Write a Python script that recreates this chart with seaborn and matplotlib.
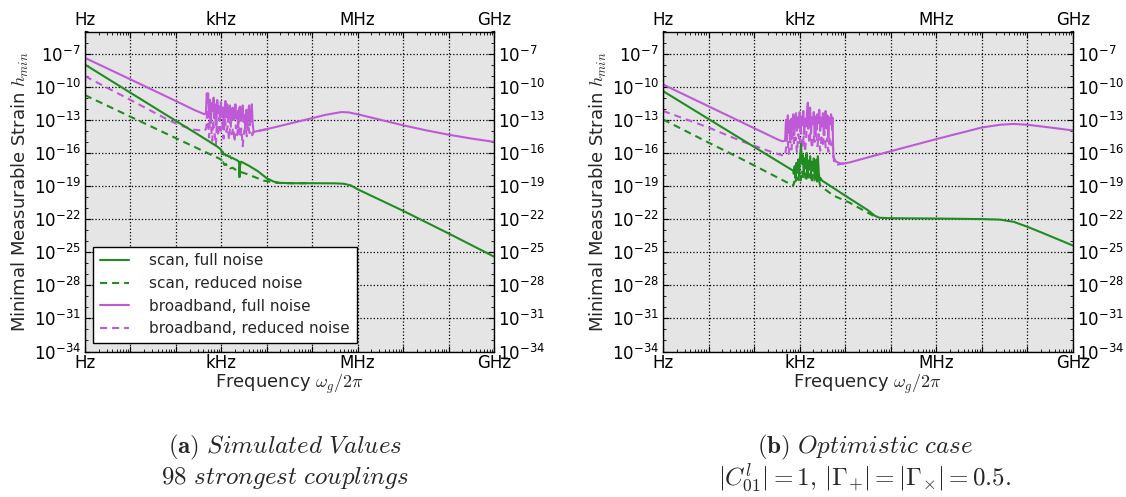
import numpy as np
import pandas as pd
import matplotlib
matplotlib.use("Agg")
import matplotlib.pyplot as plt
import matplotlib.ticker as mticker
import seaborn as sns

# ---------------- data (log10 frequency [Hz], log10 strain) ----------------
# Panel (a): simulated values, 98 strongest couplings
a_scan_full_logf = [0, 1, 2, 2.5, 2.9, 2.97, 3.0, 3.01, 3.03, 3.05, 3.08, 3.10, 3.13, 3.16, 3.19,
                    3.22, 3.25, 3.28, 3.31, 3.34, 3.37, 3.39, 3.40, 3.41, 3.43, 3.46, 3.6, 3.8,
                    4.0, 4.15, 4.3, 4.6, 5.0, 5.5, 5.7, 5.85, 6.0, 7.0, 8.0, 9.0]
a_scan_full_logh = [-8.0, -10.55, -13.1, -14.37, -15.4, -15.62, -15.75, -16.1, -15.9, -16.15, -16.1,
                    -16.25, -16.2, -16.35, -16.3, -16.5, -16.45, -16.55, -16.6, -16.65, -16.75,
                    -16.8, -18.2, -17.2, -16.8, -16.85, -17.15, -17.65, -18.3, -18.6, -18.72,
                    -18.75, -18.75, -18.76, -18.8, -18.95, -19.3, -21.25, -23.3, -25.4]

a_scan_red_logf = [0, 1, 2, 2.9, 3.0, 3.01, 3.04, 3.07, 3.10, 3.13, 3.17, 3.20, 3.25, 3.30, 3.35,
                   3.40, 3.56, 3.93, 4.22, 4.4, 5.0]
a_scan_red_logh = [-10.77, -12.72, -14.67, -16.41, -16.6, -17.0, -16.85, -17.1, -17.0, -17.25,
                   -17.2, -17.4, -17.35, -17.5, -17.55, -17.7, -17.91, -18.51, -18.72, -18.75, -18.75]

a_bb_full_logf = [0, 1, 2, 2.4, 2.6, 2.63, 2.66,
                  2.68, 2.70, 2.71, 2.73, 2.75, 2.77, 2.79, 2.81, 2.83, 2.85, 2.87, 2.89, 2.91,
                  2.93, 2.95, 2.97, 2.99, 3.01, 3.03, 3.05, 3.07, 3.09, 3.11, 3.13, 3.15, 3.17,
                  3.19, 3.21, 3.23, 3.25, 3.27, 3.29, 3.31, 3.33, 3.35, 3.37, 3.39, 3.41, 3.43,
                  3.45, 3.47, 3.49, 3.51, 3.53, 3.55, 3.57, 3.59, 3.61, 3.63, 3.65, 3.67, 3.69,
                  3.71, 4.0, 4.5, 5.0, 5.3, 5.5, 5.65, 5.8, 6.0, 6.5, 7.0, 7.5, 8.0, 8.5, 9.0]
a_bb_full_logh = [-7.39, -9.34, -11.3, -12.1, -12.45, -12.5, -12.4,
                  -10.6, -11.4, -10.6, -12.8, -11.2, -13.3, -11.5, -12.2, -11.0, -12.9, -11.6,
                  -13.5, -11.2, -12.4, -11.8, -13.1, -11.4, -12.7, -11.9, -13.6, -12.0, -11.3,
                  -12.8, -11.6, -13.2, -12.1, -11.7, -13.4, -12.3, -11.9, -13.0, -12.4, -11.6,
                  -12.9, -12.2, -13.7, -12.0, -11.8, -13.1, -12.5, -11.7, -13.2, -12.6, -13.8,
                  -12.1, -13.4, -12.3, -11.7, -13.5, -12.8, -11.6, -13.3,
                  -14.1, -13.85, -13.35, -12.85, -12.55, -12.4, -12.3, -12.33, -12.5, -13.0,
                  -13.5, -13.95, -14.35, -14.7, -15.0]

a_bb_red_logf = [0, 1, 1.8, 2.09, 2.4, 2.64,
                 2.67, 2.69, 2.71, 2.73, 2.75, 2.78, 2.80, 2.82, 2.85, 2.88, 2.90, 2.93, 2.96,
                 2.99, 3.02, 3.05, 3.08, 3.11, 3.14, 3.17, 3.20, 3.23, 3.26, 3.29, 3.32, 3.35,
                 3.38, 3.41, 3.44, 3.47, 3.50, 3.53, 3.56, 3.59, 3.62, 3.65, 3.68, 3.71, 4.0]
a_bb_red_logh = [-9.05, -11.2, -12.95, -13.5, -13.9, -14.0,
                 -13.7, -12.0, -13.2, -14.6, -12.6, -13.9, -14.9, -13.0, -14.2, -15.3, -13.4,
                 -14.5, -12.8, -14.0, -13.3, -14.7, -12.9, -14.1, -13.6, -14.8, -13.2, -14.3,
                 -13.7, -15.0, -13.5, -14.4, -13.0, -14.6, -13.8, -15.4, -14.1, -13.6, -14.5,
                 -13.3, -14.2, -13.9, -14.4, -14.1, -13.85]

# Panel (b): optimistic case
b_scan_full_logf = [0, 1, 2, 2.86,
                    2.87, 2.89, 2.91, 2.93, 2.95, 2.97, 2.99, 3.01, 3.03, 3.05, 3.07, 3.09, 3.11,
                    3.13, 3.15, 3.17, 3.19, 3.21, 3.23, 3.25, 3.27, 3.29, 3.31, 3.33, 3.35, 3.37,
                    3.39, 3.40, 3.42, 3.44, 3.46,
                    3.49, 4.11, 4.5, 4.65, 4.75, 5.0, 6.0, 7.0, 7.4, 7.7, 8.0, 8.3, 9.0]
b_scan_full_logh = [-10.4, -12.93, -15.46, -17.62,
                    -17.9, -17.2, -18.3, -16.9, -17.8, -16.6, -18.1, -16.4, -15.2, -17.0, -16.2,
                    -17.9, -16.5, -17.4, -16.0, -18.2, -16.7, -17.5, -16.3, -18.0, -16.8, -17.6,
                    -16.5, -18.3, -17.1, -16.6, -18.4, -16.3, -17.8, -18.5, -18.3,
                    -18.51, -20.17, -21.2, -21.7, -21.88, -21.92, -21.95, -22.0, -22.05, -22.25,
                    -22.7, -23.2, -24.4]

b_scan_red_logf = [0, 1, 1.7, 2.86,
                   2.88, 2.90, 2.93, 2.96, 2.99, 3.02, 3.05, 3.08, 3.11, 3.14, 3.17, 3.20, 3.23,
                   3.26, 3.29, 3.32, 3.35, 3.38, 3.41, 3.44,
                   3.45, 3.74, 4.09, 4.56, 4.7]
b_scan_red_logh = [-12.97, -15.07, -16.5, -18.97,
                   -18.6, -18.9, -18.2, -18.7, -17.9, -18.5, -17.6, -18.3, -17.8, -18.6, -17.5,
                   -18.4, -17.9, -18.7, -18.0, -18.5, -17.8, -18.6, -18.2, -18.8,
                   -18.97, -19.87, -20.5, -21.57, -21.85]

b_bb_full_logf = [0, 1, 2, 2.5, 2.62, 2.68,
                  2.70, 2.72, 2.74, 2.76, 2.78, 2.80, 2.82, 2.84, 2.86, 2.88, 2.90, 2.92, 2.94,
                  2.96, 2.98, 3.00, 3.02, 3.04, 3.06, 3.08, 3.10, 3.12, 3.14, 3.16, 3.18, 3.19,
                  3.21, 3.23, 3.25, 3.27, 3.29, 3.31, 3.33, 3.35, 3.37, 3.39, 3.41, 3.43, 3.45,
                  3.47, 3.49, 3.51, 3.53, 3.55, 3.57, 3.59, 3.61, 3.63, 3.65, 3.67, 3.69, 3.71,
                  3.72, 3.74, 3.8, 3.9, 4.0, 4.11, 4.55, 5.0, 6.0, 7.0, 7.4, 7.7, 8.0, 8.5, 9.0]
b_bb_full_logh = [-9.8, -11.78, -13.76, -14.75, -14.95, -14.9,
                  -13.0, -14.6, -12.6, -14.2, -13.1, -14.8, -12.9, -13.9, -12.5, -14.4, -13.2,
                  -12.4, -14.0, -12.8, -13.7, -12.3, -14.1, -12.7, -13.5, -12.2, -14.3, -12.9,
                  -13.6, -12.4, -11.45, -13.8, -12.6, -11.9, -14.2, -12.8, -13.4, -12.3, -14.5,
                  -12.7, -13.9, -12.5, -13.3, -12.1, -14.0, -12.8, -13.6, -12.4, -14.4, -12.9,
                  -12.2, -13.8, -12.6, -14.6, -12.8, -13.4, -12.5, -13.9,
                  -12.8, -16.4, -16.8, -16.97, -16.95, -16.85, -16.35, -15.85, -14.75, -13.7,
                  -13.45, -13.38, -13.45, -13.7, -13.97]

b_bb_red_logf = [0, 1, 1.7, 2.3, 2.68,
                 2.70, 2.73, 2.76, 2.79, 2.82, 2.85, 2.88, 2.91, 2.94, 2.97, 3.00, 3.03, 3.06,
                 3.09, 3.12, 3.15, 3.18, 3.21, 3.24, 3.27, 3.30, 3.33, 3.36, 3.39, 3.42, 3.45,
                 3.48, 3.51, 3.54, 3.57, 3.60, 3.63, 3.66, 3.69, 3.72,
                 3.76, 3.8, 3.9, 4.0]
b_bb_red_logh = [-12.2, -13.7, -14.9, -15.8, -16.3,
                 -15.6, -14.4, -16.1, -14.8, -15.7, -14.1, -15.3, -14.6, -16.0, -14.3, -15.2,
                 -13.9, -15.5, -14.5, -15.9, -14.0, -13.4, -15.1, -14.2, -15.6, -14.4, -15.0,
                 -13.8, -15.4, -14.3, -15.8, -14.6, -15.2, -14.0, -15.5, -14.7, -15.9, -14.5,
                 -15.3, -14.9,
                 -17.0, -17.1, -17.0, -16.95]

x_tick_names = {0: "Hz", 3: "kHz", 6: "MHz", 9: "GHz"}
y_major_exps = list(range(-34, -6, 3))
legend_labels = ["scan, full noise", "scan, reduced noise",
                 "broadband, full noise", "broadband, reduced noise"]
caption_a = [r"$\mathbf{(a)}\ \mathit{Simulated\ Values}$", r"$\mathit{98\ strongest\ couplings}$"]
caption_b = [r"$\mathbf{(b)}\ \mathit{Optimistic\ case}$",
             r"$|C^{l}_{01}| = 1,\, |\Gamma_{+}| = |\Gamma_{\times}| = 0.5.$"]

# ---------------- styling ----------------
sns.set_style("ticks")
plt.rcParams['font.family'] = ['DejaVu Sans']
plt.rcParams['mathtext.fontset'] = 'dejavusans'

GREEN = '#228B22'
PURPLE = '#BE5AD8'
FS_TICK = 12
FS_LABEL = 13
FS_LEG = 11
FS_CAP = 18


def frame(logf, logh):
    return pd.DataFrame({"f": 10.0 ** np.asarray(logf, float),
                         "h": 10.0 ** np.asarray(logh, float)})


fig = plt.figure(figsize=(11.26, 4.97), dpi=100)
ax_a = fig.add_axes([85 / 1126, 1 - 351.5 / 497, (494 - 85) / 1126, 320 / 497])
ax_b = fig.add_axes([663 / 1126, 1 - 351.5 / 497, (1073 - 663) / 1126, 320 / 497])

panels = [
    (ax_a, [(a_scan_full_logf, a_scan_full_logh), (a_scan_red_logf, a_scan_red_logh),
            (a_bb_full_logf, a_bb_full_logh), (a_bb_red_logf, a_bb_red_logh)]),
    (ax_b, [(b_scan_full_logf, b_scan_full_logh), (b_scan_red_logf, b_scan_red_logh),
            (b_bb_full_logf, b_bb_full_logh), (b_bb_red_logf, b_bb_red_logh)]),
]
colors = [GREEN, GREEN, PURPLE, PURPLE]
styles = ['-', (0, (3.4, 2.4)), '-', (0, (3.4, 2.4))]
# draw order: broadband first, scan on top
order = [2, 3, 0, 1]

for ax, series in panels:
    ax.set_facecolor('#e5e5e5')
    for i in order:
        lf, lh = series[i]
        sns.lineplot(data=frame(lf, lh), x="f", y="h", ax=ax, color=colors[i],
                     linestyle=styles[i], linewidth=1.5, label=legend_labels[i],
                     estimator=None, sort=False)
    ax.set_xscale('log')
    ax.set_yscale('log')
    ax.set_xlim(1, 1e9)
    ax.set_ylim(1e-34, 1e-5)

    ax.xaxis.set_major_locator(mticker.FixedLocator([10.0 ** k for k in range(0, 10)]))
    ax.xaxis.set_major_formatter(mticker.FuncFormatter(
        lambda v, p: x_tick_names.get(int(round(np.log10(v))), "")))
    ax.xaxis.set_minor_locator(mticker.LogLocator(base=10, subs=np.arange(2, 10), numticks=200))
    ax.xaxis.set_minor_formatter(mticker.NullFormatter())

    ax.yaxis.set_major_locator(mticker.FixedLocator([10.0 ** k for k in y_major_exps]))
    ax.yaxis.set_major_formatter(mticker.FuncFormatter(
        lambda v, p: r"$10^{%d}$" % int(round(np.log10(v)))))
    ax.yaxis.set_minor_locator(mticker.FixedLocator([10.0 ** k for k in range(-34, -4)]))
    ax.yaxis.set_minor_formatter(mticker.NullFormatter())

    ax.tick_params(which='both', direction='in', top=True, right=True, bottom=True, left=True,
                   labeltop=True, labelright=True, labelsize=FS_TICK, colors='black')
    ax.tick_params(which='major', length=4, width=0.8)
    ax.tick_params(axis='x', which='major', pad=2)
    ax.tick_params(axis='y', which='major', pad=3)
    ax.tick_params(which='minor', length=2, width=0.6)
    ax.grid(True, which='major', color='black', linestyle=':', linewidth=0.9)
    for s in ax.spines.values():
        s.set_color('black')
        s.set_linewidth(1.0)
    ax.set_xlabel(r"Frequency $\omega_g/2\pi$", fontsize=FS_LABEL, math_fontfamily='cm',
                  labelpad=0)
    ax.set_ylabel(r"Minimal Measurable Strain $h_{min}$", fontsize=FS_LABEL,
                  math_fontfamily='cm', labelpad=2)

# legend only in panel (a), in the original order
h_a, l_a = ax_a.get_legend_handles_labels()
lut = dict(zip(l_a, h_a))
ax_a.legend([lut[l] for l in legend_labels], legend_labels, loc='lower left',
            bbox_to_anchor=(0.02, 0.026), fontsize=FS_LEG, frameon=True, fancybox=False,
            edgecolor='black', framealpha=1.0, facecolor='white', handlelength=1.9,
            handletextpad=1.3, labelspacing=0.5, borderpad=0.45, borderaxespad=0.0)
if ax_b.get_legend() is not None:
    ax_b.get_legend().remove()

# captions
for cx, lines in [(285 / 1126, caption_a), (865 / 1126, caption_b)]:
    fig.text(cx, 1 - 447 / 497, lines[0], ha='center', va='center', fontsize=FS_CAP,
             math_fontfamily='cm')
    fig.text(cx, 1 - 478 / 497, lines[1], ha='center', va='center', fontsize=FS_CAP,
             math_fontfamily='cm')

fig.savefig("out.png", dpi=100)
